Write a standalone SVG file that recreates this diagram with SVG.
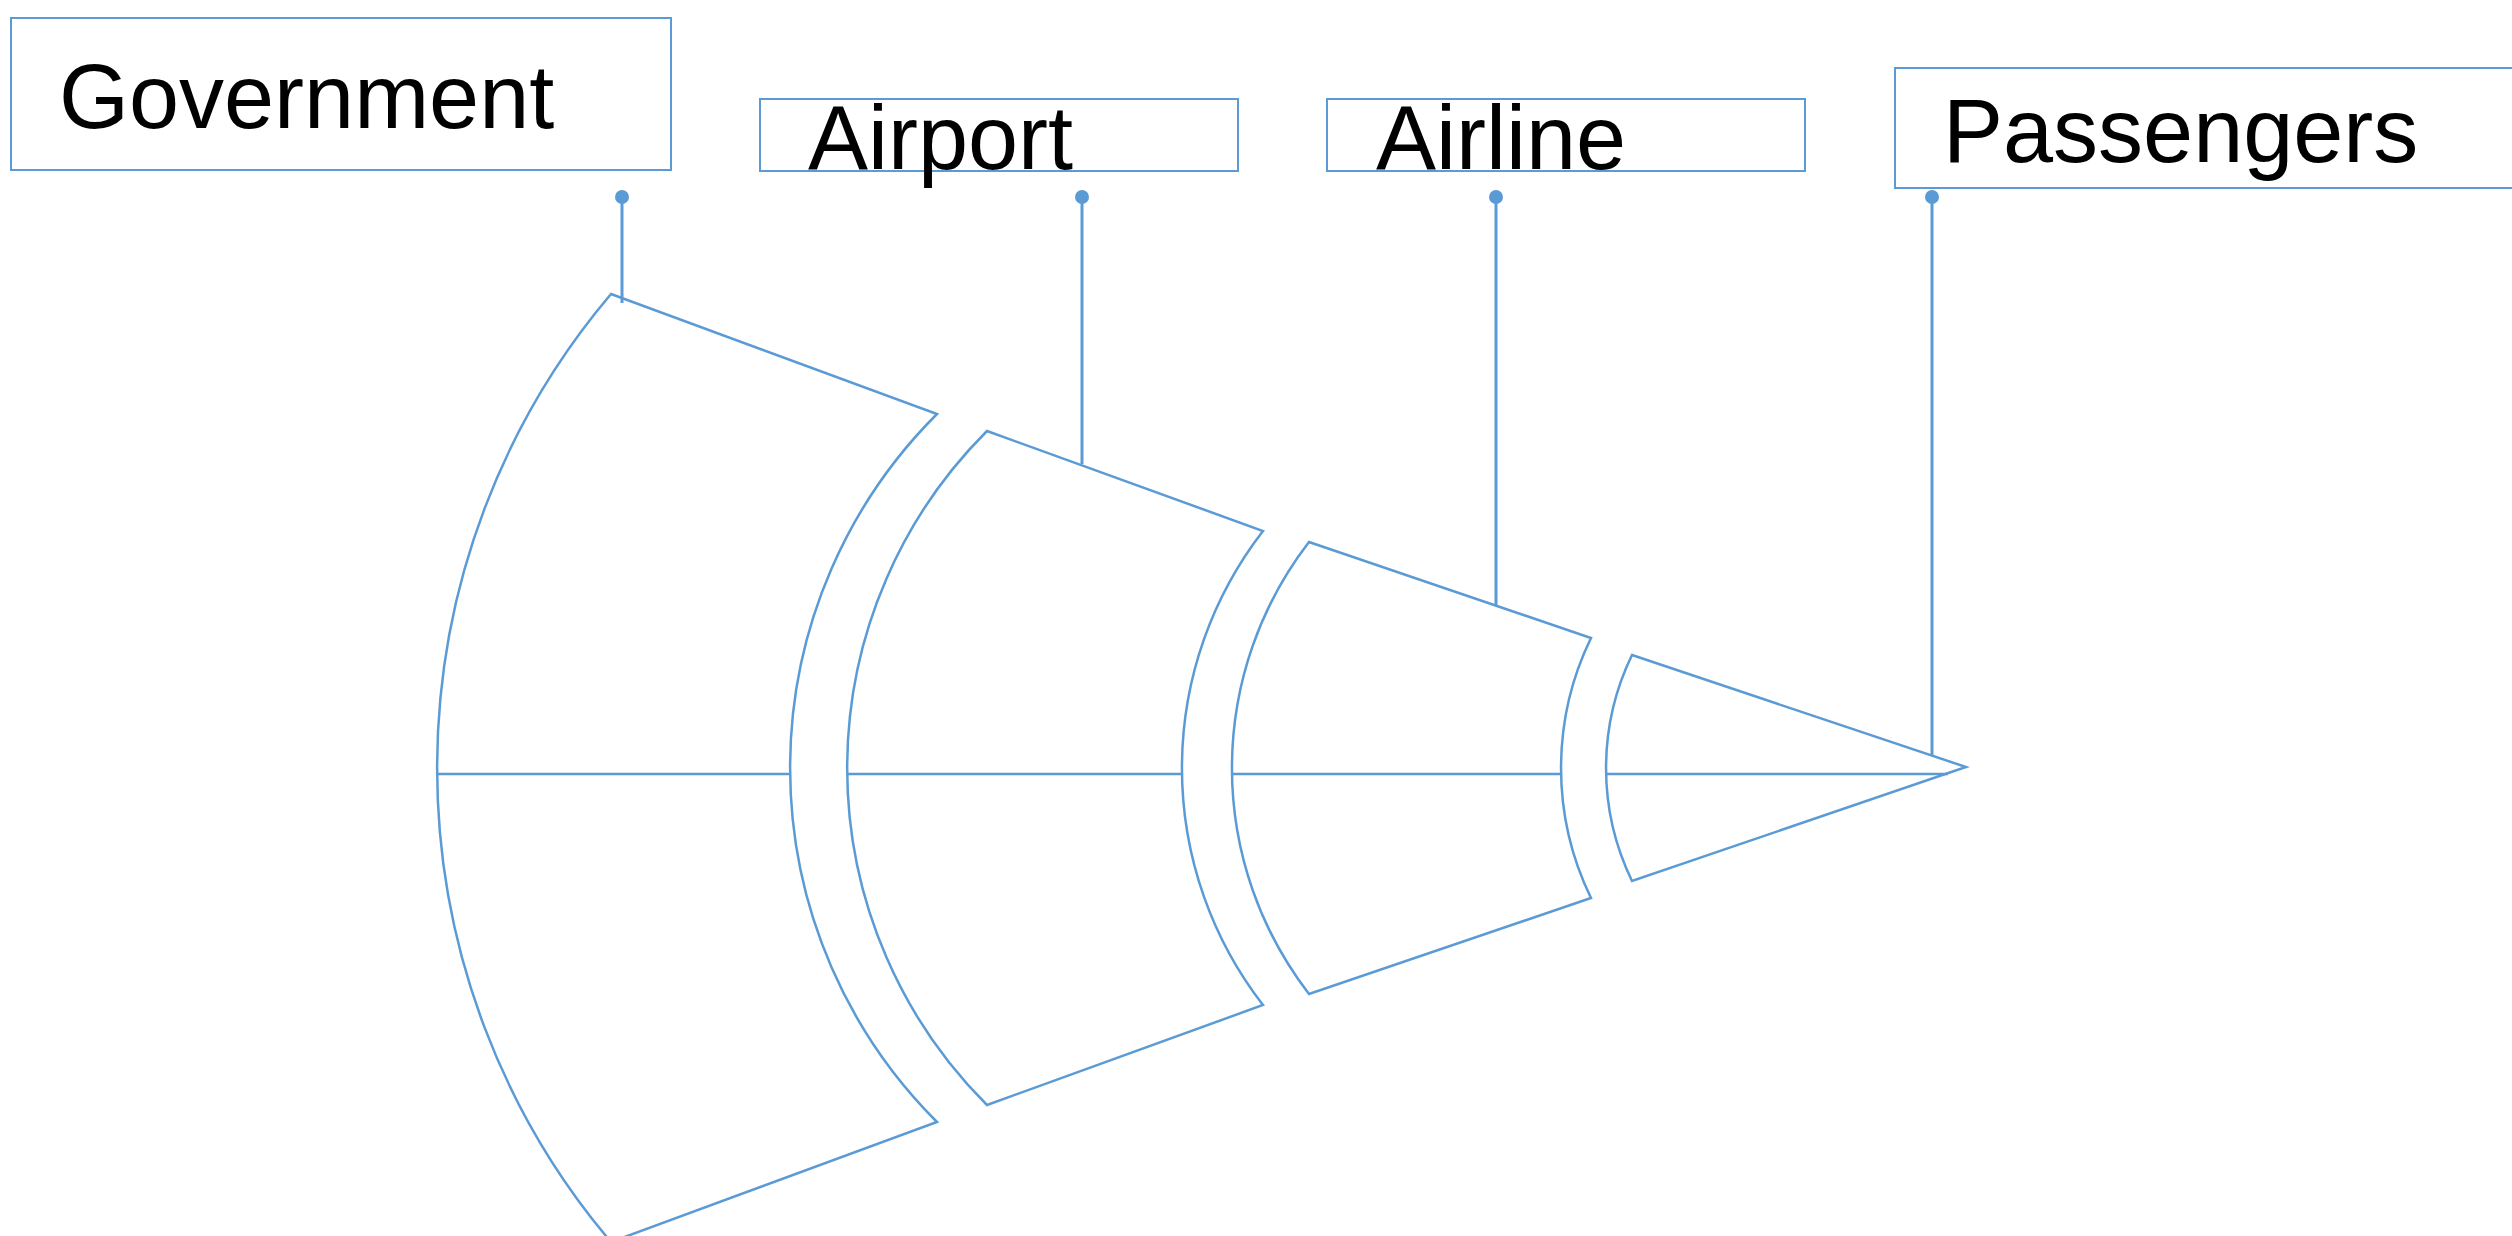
<svg xmlns="http://www.w3.org/2000/svg" width="2512" height="1236" viewBox="0 0 2512 1236">
<style>
.box{fill:#fff;stroke:#5B9BD5;stroke-width:2}
.seg{fill:none;stroke:#5B9BD5;stroke-width:2.5;stroke-linejoin:miter}
.axis{stroke:#5B9BD5;stroke-width:2.5}
.lbl{font-family:"Liberation Sans",Arial,sans-serif;font-size:90px;fill:#000}
.conn{stroke:#5B9BD5;stroke-width:3}
.dot{fill:#5B9BD5}
</style>
<rect width="2512" height="1236" fill="#fff"/>
<g id="funnel">
<g id="seg-government">
<path class="seg" d="M611,294 L937,414 A500,500 0 0 0 937,1122 L611,1242 A733,733 0 0 1 611,294 Z"/>
<line class="axis" x1="437" y1="774" x2="790" y2="774"/>
</g>
<g id="seg-airport">
<path class="seg" d="M987,431 L1263,531 A387,387 0 0 0 1263,1005 L987,1105 A476,476 0 0 1 987,431 Z"/>
<line class="axis" x1="847" y1="774" x2="1182" y2="774"/>
</g>
<g id="seg-airline">
<path class="seg" d="M1309,542 L1591,638 A297,297 0 0 0 1591,898 L1309,994 A370,370 0 0 1 1309,542 Z"/>
<line class="axis" x1="1232" y1="774" x2="1561" y2="774"/>
</g>
<g id="seg-passengers">
<path class="seg" d="M1632,655 L1966,767 L1632,881 A259,259 0 0 1 1632,655 Z"/>
<line class="axis" x1="1606" y1="774" x2="1948" y2="774"/>
</g>
</g>
<g id="node-government">
<rect class="box" x="11" y="18" width="660" height="152"/>
<text class="lbl" x="59" y="128">Government</text>
</g>
<g id="node-airport">
<rect class="box" x="760" y="99" width="478" height="72"/>
<text class="lbl" x="808" y="169">Airport</text>
</g>
<g id="node-airline">
<rect class="box" x="1327" y="99" width="478" height="72"/>
<text class="lbl" x="1376" y="169">Airline</text>
</g>
<g id="node-passengers">
<rect class="box" x="1895" y="68" width="640" height="120"/>
<text class="lbl" x="1943" y="162">Passengers</text>
</g>
<g id="connectors">
<line class="conn" x1="622" y1="197" x2="622" y2="303"/>
<circle class="dot" cx="622" cy="197" r="7"/>
<line class="conn" x1="1082" y1="197" x2="1082" y2="464"/>
<circle class="dot" cx="1082" cy="197" r="7"/>
<line class="conn" x1="1496" y1="197" x2="1496" y2="605"/>
<circle class="dot" cx="1496" cy="197" r="7"/>
<line class="conn" x1="1932" y1="197" x2="1932" y2="756"/>
<circle class="dot" cx="1932" cy="197" r="7"/>
</g>
</svg>
